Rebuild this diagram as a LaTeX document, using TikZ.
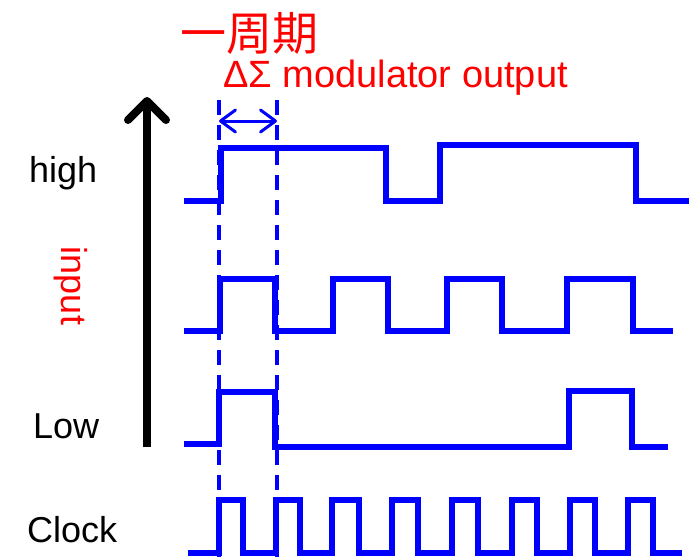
\documentclass[tikz,border=0pt]{standalone}
\usepackage{fontspec}
\setmainfont{Liberation Sans}
\newfontfamily\cjkfont{Noto Sans CJK JP}
\usepackage{tikz}
\usetikzlibrary{arrows.meta, positioning}
\definecolor{colorSenal}{HTML}{0000FF}
\definecolor{colorRojo}{HTML}{FF0000}

\begin{document}
\begin{tikzpicture}[x=1pt, y=-1pt,
        senal/.style={colorSenal, line width=5.5pt, line join=miter},
        guia/.style={colorSenal, line width=3.2pt, dash pattern=on 15pt off 10pt},
        periodo/.style={{Straight Barb[length=15pt,width=22pt,round]}-{Straight Barb[length=15pt,width=22pt,round]},
            colorSenal, line width=3pt},
        eje/.style={-{Straight Barb[length=19pt,width=38pt,round]}, line width=8pt, black},
        etiq/.style={inner sep=0pt, font=\fontsize{36}{40}\selectfont},
        etiqr/.style={etiq, colorRojo}
    ]
        \useasboundingbox (0,0) rectangle (689,557);

        % labels
        \node[etiqr, font=\cjkfont\fontsize{46}{50}\selectfont] (titulo) at (249,33) {一周期};
        \node[etiqr, anchor=base west, font=\fontsize{38}{42}\selectfont] (dsm) at (223,87) {ΔΣ modulator output};
        \node[etiq, anchor=base west] (high) at (29,182) {high};
        \node[etiq, anchor=base west] (low) at (33,438) {Low};
        \node[etiq, anchor=base west] (clock) at (27,542) {Clock};
        \node[etiqr, rotate=-90] (input) at (71,286) {input};

        % input axis
        \coordinate (ejeIni) at (147,447);
        \coordinate (ejeFin) at (147,97);
        \draw[eje] (ejeIni) -- (ejeFin);

        % one period
        \coordinate (t0) at (219,100);
        \coordinate (t1) at (277,100);
        \draw[guia] (t0) -- (219,557);
        \draw[guia] (t1) -- (277,557);
        \draw[periodo] (219,121) -- (277,121);

        % outputs
        \draw[senal] (184,201) -- (221,201) -- (221,148) -- (386,148) -- (386,201) -- (440,201)
            -- (440,145) -- (636,145) -- (636,201) -- (689,201);
        \draw[senal] (184,331) -- (220,331) -- (220,279) -- (275,279) -- (275,331) -- (333,331)
            -- (333,279) -- (388,279) -- (388,331) -- (447,331) -- (447,279) -- (502,279)
            -- (502,331) -- (567,331) -- (567,279) -- (633,279) -- (633,331) -- (673,331);
        \draw[senal] (184,444) -- (219,444) -- (219,392) -- (275,392) -- (275,447) -- (569,447)
            -- (569,391) -- (632,391) -- (632,447) -- (668,447);

        % clock
        \draw[senal] (188,553) -- (219,553) -- (219,500) -- (243,500) -- (243,553) -- (276,553)
            -- (276,500) -- (300,500) -- (300,553) -- (332,553) -- (332,500) -- (359,500)
            -- (359,553) -- (392,553) -- (392,500) -- (418,500) -- (418,553) -- (452,553)
            -- (452,500) -- (478,500) -- (478,553) -- (512,553) -- (512,500) -- (537,500)
            -- (537,553) -- (570,553) -- (570,500) -- (595,500) -- (595,553) -- (628,553)
            -- (628,500) -- (653,500) -- (653,553) -- (682,553);
    \end{tikzpicture}
\end{document}
